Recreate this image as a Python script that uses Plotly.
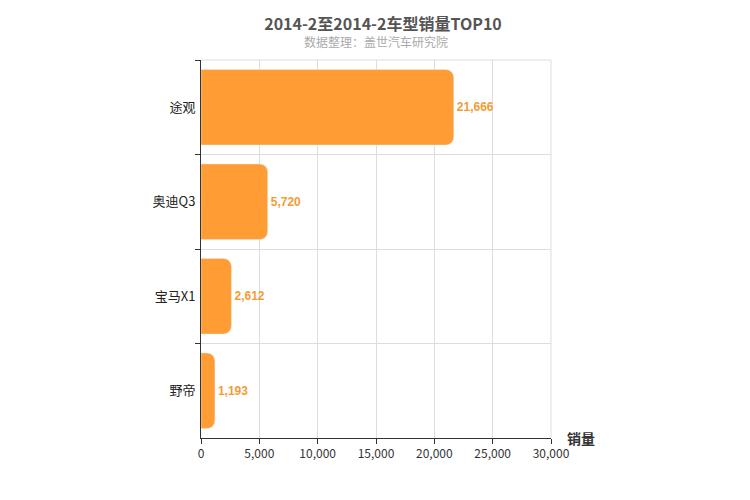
import plotly.graph_objects as go

categories = ["途观", "奥迪Q3", "宝马X1", "野帝"]
sales = [21666, 5720, 2612, 1193]
labels = [f"<b>{v:,}</b>" for v in sales]

fig = go.Figure(go.Bar(
    x=sales, y=categories, orientation="h",
    marker=dict(color="#ff9c33", cornerradius=8),
    width=0.8,
    text=labels, textposition="outside", cliponaxis=False,
    textfont=dict(color="#f39c35", size=12, family="Arial"),
))
fig.update_layout(
    width=750, height=500,
    margin=dict(l=193, r=207, t=52, b=70),
    plot_bgcolor="white", paper_bgcolor="white",
    font=dict(family="Noto Sans CJK SC, Arial", color="#333"),
    title=dict(text="<b>2014-2至2014-2车型销量TOP10</b>", x=0.5, xanchor="center", y=0.968,
               yanchor="middle", font=dict(size=16, color="#555")),
    showlegend=False,
    annotations=[
        dict(text="数据整理：盖世汽车研究院", xref="paper", yref="paper", x=0.5, y=1.048,
             xanchor="center", yanchor="middle", showarrow=False, font=dict(size=12, color="#aaa")),
        dict(text="<b>销量</b>", xref="paper", yref="paper", x=1.04, y=0.0, xanchor="left",
             yanchor="middle", showarrow=False, font=dict(size=14, color="#333")),
    ],
)
fig.update_xaxes(range=[0, 30000], dtick=5000, tickformat=",", showgrid=True, gridcolor="#ddd",
                 showline=True, linecolor="#333", ticks="outside", tickcolor="#333",
                 mirror=False, zeroline=False, tickfont=dict(size=12))
fig.update_yaxes(autorange="reversed", tickson="boundaries", showgrid=True, gridcolor="#ddd",
                 showline=True, linecolor="#333", ticks="outside", tickcolor="#333", ticklen=5,
                 tickfont=dict(size=13, color="#222"), ticklabelstandoff=2)
fig.add_shape(type="line", xref="paper", yref="paper", x0=1, x1=1, y0=0, y1=1,
              line=dict(color="#ddd", width=1))
fig.add_shape(type="line", xref="paper", yref="paper", x0=0, x1=1, y0=1, y1=1,
              line=dict(color="#ddd", width=1))
fig.write_html("out.html")
